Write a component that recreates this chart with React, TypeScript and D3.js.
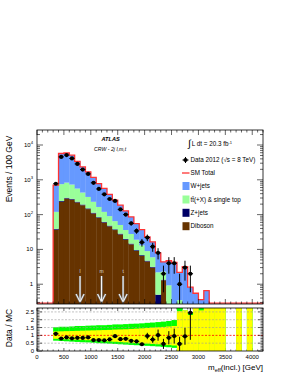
import React from "react";
import * as d3 from "d3";

// bin low edges (GeV), 100 GeV bins
const binEdges = [300, 400, 500, 600, 700, 800, 900, 1000, 1100, 1200, 1300, 1400, 1500, 1600, 1700, 1800, 1900, 2000, 2100, 2200, 2300, 2400, 2500, 2600, 2700, 2800, 2900, 3000, 3100];
const diboson = [37, 234, 290, 270, 224, 186, 144, 108, 80, 59, 46, 36, 27, 19, 14, 9, 6.5, 4.5, 3, 0.1, 1.3, 0.05, 0, 0, 0, 0, 0, 0, 0];
const zjets = [2, 12, 15, 14, 11, 9, 7, 5.5, 4, 3, 2.3, 1.8, 1.4, 1, 0.7, 0.5, 0.35, 0.25, 0.15, 0.4, 0.05, 0, 0, 0, 0, 0, 0, 0, 0];
const ttbar = [81, 504, 525, 446, 325, 235, 171, 120, 82, 58, 42, 27, 22, 16, 13, 9.5, 6.2, 4.2, 2.8, 1.7, 0.95, 0.88, 0.1, 0.35, 0, 0, 0, 0, 0];
const wjets = [580, 4950, 5070, 4370, 2840, 1920, 1378, 936, 614, 445, 290, 195, 136, 92, 58, 36, 24, 14, 10.5, 5.7, 2.1, 3.8, 4.1, 1.85, 3.2, 0.82, 0.55, 0.36, 0.65];

// data, bins 300..2800
const dataCounts = [770, 4560, 5130, 4130, 2860, 1970, 1480, 820, 546, 384, 281, 247, 141, 100, 56, 34, 16, 22, 12, 8, 2, 4, 4, 1, 3, 2];

// ratio uncertainty bands, bins 300..4100
const bandEdges = [300, 400, 500, 600, 700, 800, 900, 1000, 1100, 1200, 1300, 1400, 1500, 1600, 1700, 1800, 1900, 2000, 2100, 2200, 2300, 2400, 2500, 2600, 2700, 2800, 2900, 3000, 3100, 3200, 3300, 3400, 3700, 3900];
const greenHi = [1.52, 1.55, 1.55, 1.57, 1.6, 1.6, 1.62, 1.63, 1.65, 1.65, 1.67, 1.7, 1.7, 1.72, 1.74, 1.75, 1.77, 1.8, 1.82, 1.85, 1.88, 1.92, 1.98, 5, 2.6, 2.45, 5, 5, 5, 5, 5, 5, 5, 5];
const greenLo = [0.66, 0.64, 0.62, 0.6, 0.58, 0.56, 0.55, 0.53, 0.5, 0.49, 0.47, 0.45, 0.43, 0.41, 0.39, 0.37, 0.35, 0.33, 0.31, 0.29, 0.26, 0.24, 0.2, 0, 0, 0, 0, 0, 0, 0, 0, 0, 0, 0];
const yellowHi = [1.25, 1.26, 1.27, 1.28, 1.29, 1.3, 1.31, 1.32, 1.33, 1.34, 1.35, 1.37, 1.38, 1.39, 1.41, 1.43, 1.45, 1.47, 1.5, 1.52, 1.54, 1.57, 1.6, 2.55, 2.6, 2.3, 5, 2.6, 5, 5, 5, 5, 5, 5];
const yellowLo = [0.78, 0.76, 0.75, 0.73, 0.72, 0.7, 0.69, 0.67, 0.65, 0.63, 0.61, 0.59, 0.57, 0.55, 0.53, 0.51, 0.49, 0.47, 0.45, 0.43, 0.41, 0.38, 0.35, 0, 0, 0, 0, 0, 0, 0, 0, 0, 0, 0];

const arrowPos = [800, 1200, 1600];
const arrowLabels = ["l", "m", "t"];
const xTickLabels = [0, 500, 1000, 1500, 2000, 2500, 3000, 3500, 4000];
const ratioTickLabels = [0, 0.5, 1, 1.5, 2, 2.5];

const BW = 100;
const FONT = "'Liberation Sans', Arial, Helvetica, sans-serif";
const colors = {
  wjets: "#6699ff",
  ttbar: "#99ff99",
  zjets: "#000066",
  diboson: "#663300",
  total: "#ff3333",
};

const App = () => {
  const L = 37, R = 263, T = 130, B = 304, RT = 308, RB = 351;
  const x = d3.scaleLinear().domain([0, 4200]).range([L, R]);
  const y = d3.scaleLog().domain([0.27, 27000]).range([B, T]).clamp(true);
  const r = d3.scaleLinear().domain([0, 2.75]).range([RB, RT]).clamp(true);

  const table = binEdges.map((e, i) => ({
    edge: e,
    diboson: diboson[i],
    zjets: zjets[i],
    ttbar: ttbar[i],
    wjets: wjets[i],
  }));
  const keys = ["diboson", "zjets", "ttbar", "wjets"] as const;
  const stacked = d3.stack<any>().keys(keys as any)(table);
  const totals = table.map((d) => d.diboson + d.zjets + d.ttbar + d.wjets);

  const yv = (v: number) => y(Math.max(v, 1e-4));

  // SM total outline from 0 to 4200
  const outlinePts: [number, number][] = [];
  for (let e = 0; e < 4200; e += BW) {
    const idx = binEdges.indexOf(e);
    const v = idx >= 0 ? totals[idx] : 0;
    outlinePts.push([e, v]);
  }
  outlinePts.push([4200, outlinePts[outlinePts.length - 1][1]]);
  const outline = d3
    .line<[number, number]>()
    .x((d) => x(d[0]))
    .y((d) => Math.min(yv(d[1]), B - 0.8))
    .curve(d3.curveStepAfter)(outlinePts);

  // ticks
  const xMinor = d3.range(0, 4201, 100);
  const logMajor = [1, 10, 100, 1000, 10000];
  const logMinor: number[] = [];
  [0.1, 1, 10, 100, 1000, 10000].forEach((dec) => {
    for (let k = 2; k <= 9; k++) {
      const v = dec * k;
      if (v > 0.27 && v < 27000) logMinor.push(v);
    }
  });
  const rMinor = d3.range(0, 2.75, 0.1);

  const expLabel = (v: number) => {
    const p = Math.round(Math.log10(v));
    if (p === 0) return <tspan>1</tspan>;
    if (p === 1) return <tspan>10</tspan>;
    return (
      <>
        <tspan>10</tspan>
        <tspan dy={-2.8} fontSize={4.2}>{p}</tspan>
      </>
    );
  };

  const ratioPts = dataCounts.map((n, i) => ({
    c: binEdges[i] + BW / 2,
    v: n / totals[i],
    e: Math.sqrt(n) / totals[i],
  }));

  return (
    <svg width={289} height={374} style={{ position: "absolute", left: 0, top: 0, background: "#fff" }} fontFamily={FONT}>
      <defs>
        <clipPath id="mainClip">
          <rect x={L} y={T} width={R - L} height={B - T} />
        </clipPath>
        <clipPath id="ratioClip">
          <rect x={L} y={RT} width={R - L} height={RB - RT} />
        </clipPath>
      </defs>

      {/* stacked backgrounds */}
      <g clipPath="url(#mainClip)">
        {stacked.map((layer) => (
          <g key={layer.key} fill={(colors as any)[layer.key]}>
            {layer.map((d, i) =>
              d[1] - d[0] > 0 ? (
                <rect
                  key={i}
                  x={x(binEdges[i])}
                  width={x(binEdges[i] + BW) - x(binEdges[i]) + 0.3}
                  y={yv(d[1])}
                  height={Math.max(0, yv(d[0]) - yv(d[1]))}
                />
              ) : null
            )}
          </g>
        ))}
        <path d={outline ?? ""} fill="none" stroke={colors.total} strokeWidth={1.3} />

        {/* arrows */}
        {arrowPos.map((a, i) => (
          <g key={a}>
            <path
              d={`M${x(a)},${276}V${302}M${x(a) - 4},${294}L${x(a)},${302}L${x(a) + 4},${294}`}
              fill="none"
              stroke="#777"
              strokeWidth={2.2}
            />
            <path
              d={`M${x(a)},${276}V${302}M${x(a) - 4},${294}L${x(a)},${302}L${x(a) + 4},${294}`}
              fill="none"
              stroke="#fff"
              strokeWidth={1}
            />
            <text x={x(a)} y={273} fontSize={5} fill="#ddd" textAnchor="middle">
              {arrowLabels[i]}
            </text>
          </g>
        ))}

        {/* data */}
        {dataCounts.map((n, i) => {
          const c = x(binEdges[i] + BW / 2);
          const e = Math.sqrt(n);
          return (
            <g key={i}>
              <line x1={c} x2={c} y1={yv(n + e)} y2={yv(n - e)} stroke="#000" strokeWidth={1} />
              <line x1={x(binEdges[i])} x2={x(binEdges[i] + BW)} y1={yv(n)} y2={yv(n)} stroke="#000" strokeWidth={1} />
              <circle cx={c} cy={yv(n)} r={2.1} fill="#000" />
            </g>
          );
        })}
      </g>

      {/* main frame and ticks */}
      <rect x={L} y={T} width={R - L} height={B - T} fill="none" stroke="#000" strokeWidth={0.8} />
      {xMinor.map((v) => {
        const len = v % 500 === 0 ? 5 : 2.5;
        return (
          <g key={v} stroke="#000" strokeWidth={0.6}>
            <line x1={x(v)} x2={x(v)} y1={B} y2={B - len} />
            <line x1={x(v)} x2={x(v)} y1={T} y2={T + len} />
            <line x1={x(v)} x2={x(v)} y1={RB} y2={RB - len * 0.6} />
            <line x1={x(v)} x2={x(v)} y1={RT} y2={RT + len * 0.6} />
          </g>
        );
      })}
      {logMajor.map((v) => (
        <g key={v} stroke="#000" strokeWidth={0.6}>
          <line x1={L} x2={L + 6} y1={y(v)} y2={y(v)} />
          <line x1={R} x2={R - 6} y1={y(v)} y2={y(v)} />
        </g>
      ))}
      {logMinor.map((v) => (
        <g key={v} stroke="#000" strokeWidth={0.6}>
          <line x1={L} x2={L + 3} y1={y(v)} y2={y(v)} />
          <line x1={R} x2={R - 3} y1={y(v)} y2={y(v)} />
        </g>
      ))}
      {logMajor.map((v) => (
        <text key={v} x={33} y={y(v) + 2} fontSize={6} textAnchor="end">
          {expLabel(v)}
        </text>
      ))}

      {/* ratio panel */}
      <g clipPath="url(#ratioClip)">
        {bandEdges.map((e, i) => (
          <rect key={"g" + e} x={x(e)} width={x(e + BW) - x(e) + 0.3} y={r(greenHi[i])} height={r(greenLo[i]) - r(greenHi[i])} fill="#00ff00" />
        ))}
        {bandEdges.map((e, i) => (
          <rect key={"y" + e} x={x(e)} width={x(e + BW) - x(e) + 0.3} y={r(yellowHi[i])} height={r(yellowLo[i]) - r(yellowHi[i])} fill="#ffff00" />
        ))}
        {[0.5, 1.5, 2, 2.5].map((v) => (
          <line key={v} x1={L} x2={R} y1={r(v)} y2={r(v)} stroke="#999" strokeWidth={0.6} strokeDasharray="2,1.5" />
        ))}
        <line x1={L} x2={R} y1={r(1)} y2={r(1)} stroke="#ff0000" strokeWidth={0.8} strokeDasharray="2,1.5" />
        {ratioPts.map((p, i) => (
          <g key={i}>
            <line x1={x(p.c)} x2={x(p.c)} y1={r(p.v + p.e)} y2={r(p.v - p.e)} stroke="#000" strokeWidth={1} />
            <line x1={x(p.c - BW / 2)} x2={x(p.c + BW / 2)} y1={r(p.v)} y2={r(p.v)} stroke="#000" strokeWidth={1} />
            <circle cx={x(p.c)} cy={r(p.v)} r={2.1} fill="#000" />
          </g>
        ))}
      </g>
      <rect x={L} y={RT} width={R - L} height={RB - RT} fill="none" stroke="#000" strokeWidth={0.8} />
      {rMinor.map((v, i) => {
        const len = i % 5 === 0 ? 5 : 2.5;
        return (
          <g key={i} stroke="#000" strokeWidth={0.6}>
            <line x1={L} x2={L + len} y1={r(v)} y2={r(v)} />
            <line x1={R} x2={R - len} y1={r(v)} y2={r(v)} />
          </g>
        );
      })}
      {ratioTickLabels.map((v) => (
        <text key={v} x={34} y={r(v) + 2} fontSize={6} textAnchor="end">
          {v}
        </text>
      ))}
      {xTickLabels.map((v) => (
        <text key={v} x={x(v)} y={359} fontSize={6} textAnchor="middle">
          {v}
        </text>
      ))}

      {/* axis titles */}
      <text x={R} y={370} fontSize={8} textAnchor="end">
        m<tspan dy={2} fontSize={5.5}>eff</tspan>
        <tspan dy={-2}>(incl.) [GeV]</tspan>
      </text>
      <text transform="translate(12,169) rotate(-90)" fontSize={8.5} textAnchor="middle">
        Events / 100 GeV
      </text>
      <text transform="translate(12,328) rotate(-90)" fontSize={8.5} textAnchor="middle">
        Data / MC
      </text>

      {/* labels */}
      <text x={101.5} y={141} fontSize={5.6} fontWeight="bold" fontStyle="italic">
        ATLAS
      </text>
      <text x={94} y={151} fontSize={5.2} fontStyle="italic">
        CRW - 2j l,m,t
      </text>

      {/* legend */}
      <g fontSize={6.3}>
        <text x={188} y={147}>
          <tspan fontSize={10}>∫</tspan>
          <tspan dx={1} dy={-1}>L dt = 20.3 fb</tspan>
          <tspan dy={-2.5} fontSize={4}>-1</tspan>
        </text>
        <circle cx={185.5} cy={160} r={2.1} fill="#000" />
        <line x1={182.5} x2={188.5} y1={160} y2={160} stroke="#000" strokeWidth={1} />
        <line x1={185.5} x2={185.5} y1={157} y2={163} stroke="#000" strokeWidth={1} />
        <text x={190.5} y={162.2}>Data 2012 (√s = 8 TeV)</text>
        <line x1={182} x2={189.5} y1={173} y2={173} stroke={colors.total} strokeWidth={1.3} />
        <text x={190.5} y={175.2}>SM Total</text>
        <rect x={182.5} y={182} width={7} height={8} fill={colors.wjets} />
        <text x={190.5} y={188.4}>W+jets</text>
        <rect x={182.5} y={195.5} width={7} height={8} fill={colors.ttbar} />
        <text x={190.5} y={201.7}>tt̄(+X) &amp; single top</text>
        <rect x={182.5} y={208.8} width={7} height={8} fill={colors.zjets} />
        <text x={190.5} y={215}>Z+jets</text>
        <rect x={182.5} y={222.2} width={7} height={8} fill={colors.diboson} />
        <text x={190.5} y={228.4}>Diboson</text>
      </g>
    </svg>
  );
};

export default App;
